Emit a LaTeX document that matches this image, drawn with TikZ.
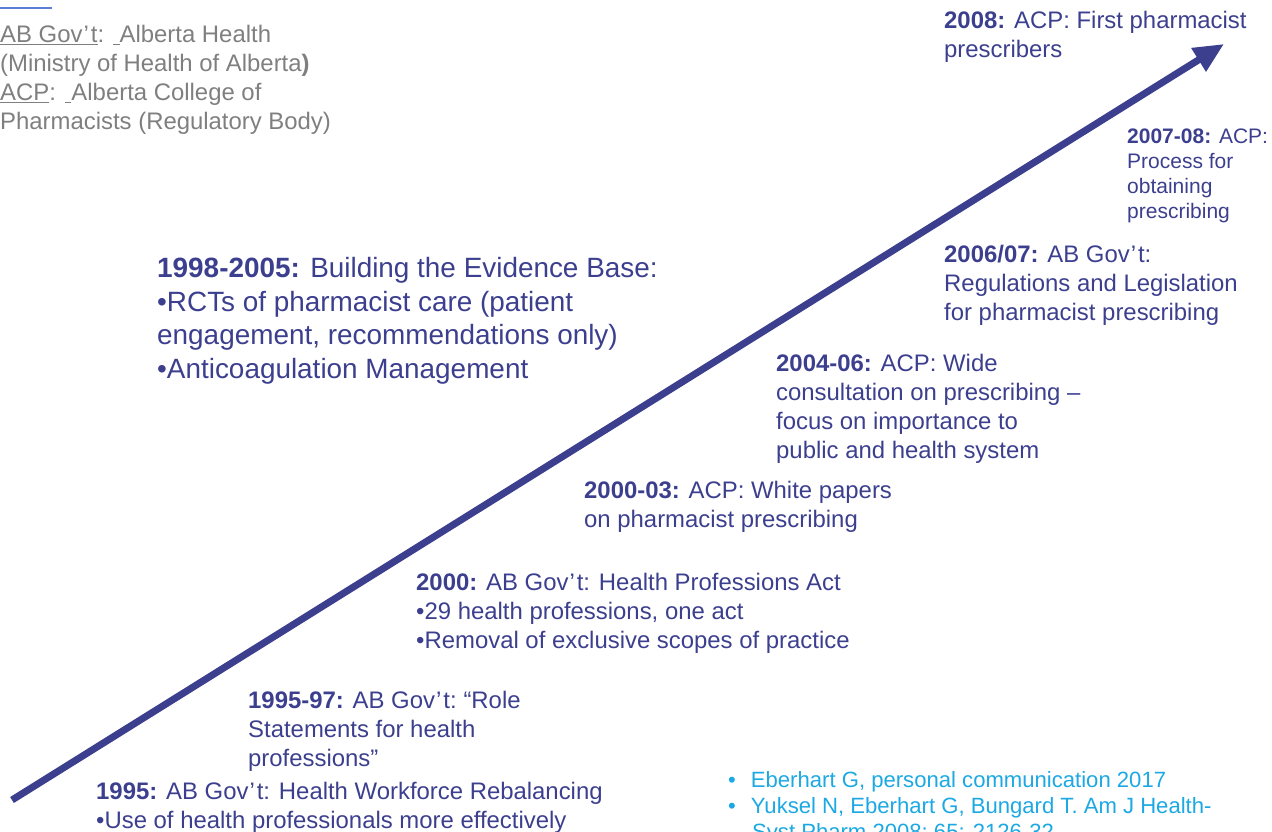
\documentclass[tikz,border=0pt]{standalone}
\usepackage{fontspec}
\setmainfont{Liberation Sans}
\usetikzlibrary{arrows.meta}
\definecolor{navy}{HTML}{3C3F8E}
\definecolor{cite}{HTML}{1CA9E3}
\definecolor{legend}{HTML}{7F7F7F}
\definecolor{rule}{HTML}{5B7FD6}
\newcommand{\govt}{Gov\kern1pt’\kern2pt t}
\begin{document}
\begin{tikzpicture}[x=1pt,y=-1pt,
  event/.style={anchor=north west,inner sep=0pt,align=left,text=navy,
    font=\fontsize{23.9}{29}\selectfont},
  smallevent/.style={event,font=\fontsize{21}{25}\selectfont},
  bigevent/.style={event,font=\fontsize{27.9}{33.7}\selectfont},
  note/.style={anchor=north west,inner sep=0pt,align=left,text=legend,
    font=\fontsize{23.9}{29}\selectfont},
  citation/.style={anchor=north west,inner sep=0pt,align=left,text=cite,
    font=\fontsize{22.1}{26}\selectfont},
  timeline/.style={navy,line width=7pt,
    -{Triangle[length=30pt,width=26pt]}}]
\useasboundingbox (0,0) rectangle (1272,831);

% legend in the top-left corner
\coordinate (ruleA) at (0,8);
\coordinate (ruleB) at (52,8);
\draw[rule,line width=1.5pt] (ruleA) -- (ruleB);
\node[note] (legend) at (0,25)
  {\underline{AB \govt}: \underline{\ }Alberta Health\\
   (Ministry of Health of Alberta\textbf{)}\\
   \underline{ACP}: \underline{\ }Alberta College of\\
   Pharmacists (Regulatory Body)};

% the timeline arrow
\coordinate (start) at (12,800);
\coordinate (tip) at (1224,44);
\draw[timeline] (start) -- (tip);

% milestones along the arrow
\node[event] (e2008) at (944,11)
  {\textbf{2008:} ACP: First pharmacist\\prescribers};
\node[smallevent] (e2007) at (1127,129)
  {\textbf{2007-08:} ACP:\\Process for\\obtaining\\prescribing};
\node[event] (e2006) at (944,245)
  {\textbf{2006/07:} AB \govt:\\Regulations and Legislation\\for pharmacist prescribing};
\node[event] (e2004) at (776,354)
  {\textbf{2004-06:} ACP: Wide\\consultation on prescribing –\\focus on importance to\\public and health system};
\node[event] (e2000b) at (584,481)
  {\textbf{2000-03:} ACP: White papers\\on pharmacist prescribing};
\node[event] (e2000) at (416,573)
  {\textbf{2000:} AB \govt: Health Professions Act\\•29 health professions, one act\\•Removal of exclusive scopes of practice};
\node[event] (e1995b) at (248,691)
  {\textbf{1995-97:} AB \govt: \kern-2pt“Role\\Statements for health\\professions”};
\node[event] (e1995) at (96,782)
  {\textbf{1995:} AB \govt: Health Workforce Rebalancing\\•Use of health professionals more effectively};
\node[bigevent] (e1998) at (157,257)
  {\textbf{1998-2005:} Building the Evidence Base:\\•RCTs of pharmacist care (patient\\engagement, recommendations only)\\•Anticoagulation Management};

% references
\node[citation] (refs) at (728,771)
  {•\hspace{15pt}Eberhart G, personal communication 2017\\
   •\hspace{15pt}Yuksel N, Eberhart G, Bungard T. Am J Health-\\
   \hspace{24pt}Syst Pharm 2008; 65: 2126-32};
\end{tikzpicture}
\end{document}
